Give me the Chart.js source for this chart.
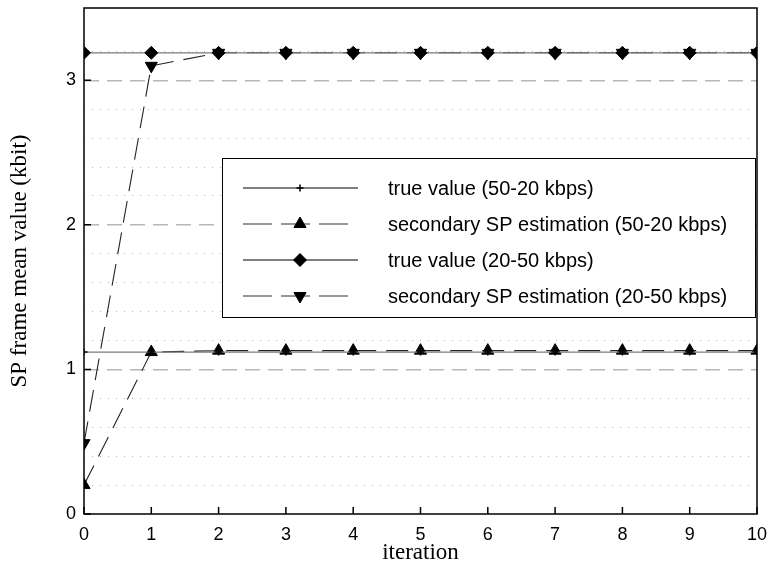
<!DOCTYPE html>
<html>
<head>
<meta charset="utf-8">
<script src="https://cdn.jsdelivr.net/npm/chart.js@4.4.1/dist/chart.umd.min.js"></script>
<style>
  html, body { margin: 0; padding: 0; background: #fff; }
  #wrap { width: 770px; height: 569px; position: relative; }
</style>
</head>
<body>
<div id="wrap"><canvas id="spChart"></canvas></div>
<script>
(function () {
  "use strict";

  // values
  const iterations = [0, 1, 2, 3, 4, 5, 6, 7, 8, 9, 10];
  const trueValue5020 = [1.12, 1.12, 1.12, 1.12, 1.12, 1.12, 1.12, 1.12, 1.12, 1.12, 1.12];
  const estimation5020 = [0.2, 1.12, 1.13, 1.13, 1.13, 1.13, 1.13, 1.13, 1.13, 1.13, 1.13];
  const trueValue2050 = [3.19, 3.19, 3.19, 3.19, 3.19, 3.19, 3.19, 3.19, 3.19, 3.19, 3.19];
  const estimation2050 = [0.49, 3.1, 3.19, 3.19, 3.19, 3.19, 3.19, 3.19, 3.19, 3.19, 3.19];
  const yLabelTicks = [0, 1, 2, 3];
  const seriesNames = [
    "true value (50-20 kbps)",
    "secondary SP estimation (50-20 kbps)",
    "true value (20-50 kbps)",
    "secondary SP estimation (20-50 kbps)"
  ];

  const SANS = "'Liberation Sans', Arial, sans-serif";
  const SERIF = "'Liberation Serif', 'Times New Roman', serif";

  function pts(arr) {
    return arr.map(function (v, i) { return { x: iterations[i], y: v }; });
  }

  function isWhole(v) {
    return Number.isInteger(Math.round(v * 1000) / 1000);
  }

  // legendColor / legendDash are only used by the hand-drawn legend
  const datasets = [
    {
      label: seriesNames[0], data: pts(trueValue5020),
      borderColor: "#7a7a7a", borderWidth: 1.3, pointStyle: "cross", pointRadius: 3.5,
      pointBorderColor: "#000", pointBorderWidth: 1.5, pointBackgroundColor: "#000",
      legendColor: "#000", legendDash: []
    },
    {
      label: seriesNames[1], data: pts(estimation5020),
      borderColor: "#222", borderWidth: 1.1, borderDash: [22, 10], pointStyle: "triangle",
      pointRadius: 7, pointBorderColor: "#000", pointBackgroundColor: "#000", pointBorderWidth: 1,
      legendColor: "#777", legendDash: [29, 9]
    },
    {
      label: seriesNames[2], data: pts(trueValue2050),
      borderColor: "#7a7a7a", borderWidth: 1.3, pointStyle: "rectRot", pointRadius: 6.5,
      pointBorderColor: "#000", pointBackgroundColor: "#000", pointBorderWidth: 1,
      legendColor: "#000", legendDash: []
    },
    {
      label: seriesNames[3], data: pts(estimation2050),
      borderColor: "#222", borderWidth: 1.1, borderDash: [22, 10], pointStyle: "triangle",
      pointRotation: 180, pointRadius: 7, pointBorderColor: "#000",
      pointBackgroundColor: "#000", pointBorderWidth: 1,
      legendColor: "#777", legendDash: [29, 9]
    }
  ];

  // box, inward ticks and the legend drawn on top
  const framePlugin = {
    id: "frame",
    afterDraw(chart) {
      const ctx = chart.ctx;
      const a = chart.chartArea;
      const xs = chart.scales.x, ys = chart.scales.y;
      ctx.save();
      ctx.strokeStyle = "#000";
      ctx.lineWidth = 1.5;
      ctx.setLineDash([]);
      ctx.strokeRect(a.left, a.top, a.right - a.left, a.bottom - a.top);
      ctx.beginPath();
      iterations.forEach(function (v) {
        const px = xs.getPixelForValue(v);
        ctx.moveTo(px, a.bottom);
        ctx.lineTo(px, a.bottom - 7);
      });
      yLabelTicks.forEach(function (v) {
        const py = ys.getPixelForValue(v);
        ctx.moveTo(a.left, py);
        ctx.lineTo(a.left + 7, py);
      });
      ctx.stroke();

      // legend
      const box = { left: 222, top: 158, right: 756, bottom: 318 };
      ctx.fillStyle = "#fff";
      ctx.fillRect(box.left, box.top, box.right - box.left, box.bottom - box.top);
      ctx.lineWidth = 1;
      ctx.strokeStyle = "#000";
      ctx.strokeRect(box.left + 0.5, box.top + 0.5, box.right - box.left - 1, box.bottom - box.top - 1);
      ctx.font = "20px " + SANS;
      ctx.textBaseline = "middle";
      ctx.textAlign = "left";
      chart.data.datasets.forEach(function (ds, i) {
        const y = 188 + i * 36;
        ctx.strokeStyle = ds.legendColor;
        ctx.lineWidth = ds.legendDash.length ? 1.4 : 1;
        ctx.setLineDash(ds.legendDash);
        ctx.beginPath();
        ctx.moveTo(243, y);
        ctx.lineTo(ds.legendDash.length ? 350 : 358, y);
        ctx.stroke();
        ctx.setLineDash([]);
        ctx.fillStyle = "#000";
        ctx.strokeStyle = "#000";
        ctx.lineWidth = ds.pointBorderWidth;
        Chart.helpers.drawPoint(ctx, {
          pointStyle: ds.pointStyle, radius: ds.pointRadius,
          rotation: ds.pointRotation || 0, borderWidth: ds.pointBorderWidth
        }, 300, y);
        ctx.fillStyle = "#000";
        ctx.fillText(ds.label, 388, y + 1);
      });
      ctx.restore();
    }
  };

  const el = document.getElementById("spChart");
  new Chart(el, {
    type: "line",
    data: { datasets: datasets },
    options: {
      responsive: true,
      maintainAspectRatio: false,
      animation: false,
      layout: { padding: { top: 2, right: 13, left: 0, bottom: 0 } },
      plugins: { legend: { display: false }, tooltip: { enabled: false } },
      scales: {
        x: {
          type: "linear", min: 0, max: 10,
          afterFit(s) { s.height = 55; s.paddingLeft = 0; s.paddingRight = 0; },
          ticks: { stepSize: 1, color: "#000", padding: 10, font: { family: SANS, size: 18 } },
          grid: { display: false, drawTicks: false },
          border: { display: false },
          title: {
            display: true, text: "iteration", color: "#000",
            padding: { top: 0, bottom: 2 }, font: { family: SERIF, size: 23 }
          }
        },
        y: {
          type: "linear", min: 0, max: 3.5,
          afterFit(s) { s.width = 84; s.paddingTop = 0; s.paddingBottom = 0; },
          afterBuildTicks(s) {
            s.ticks = s.ticks.filter(function (t) {
              return Math.abs(t.value * 5 - Math.round(t.value * 5)) < 1e-6;
            });
          },
          ticks: {
            stepSize: 0.2, color: "#000", padding: 8, font: { family: SANS, size: 18 },
            callback(v) {
              return yLabelTicks.indexOf(Math.round(v * 1000) / 1000) >= 0 ? String(v) : "";
            }
          },
          grid: {
            drawTicks: false,
            color(c) {
              const v = c.tick ? c.tick.value : 0;
              if (v === 0) return "rgba(0,0,0,0)";
              return isWhole(v) ? "#b8b8b8" : "#b4b4b4";
            },
            lineWidth(c) {
              return c.tick && isWhole(c.tick.value) ? 1.5 : 1;
            }
          },
          border: {
            display: false,
            dash(c) {
              return c.tick && isWhole(c.tick.value) ? [15, 8] : [1, 7];
            }
          },
          title: {
            display: true, text: "SP frame mean value (kbit)", color: "#000",
            padding: { top: 6, bottom: 0 }, font: { family: SERIF, size: 23 }
          }
        }
      }
    },
    plugins: [framePlugin]
  });
})();
</script>
</body>
</html>
